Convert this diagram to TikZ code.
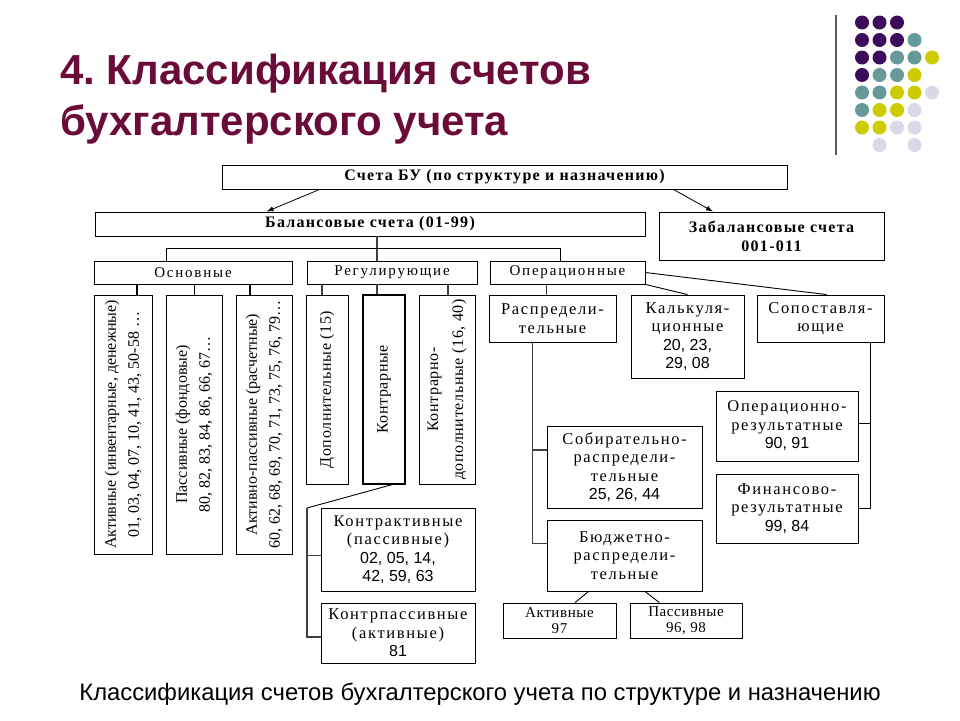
\documentclass[tikz,border=0pt]{standalone}
\usepackage{fontspec}
\setmainfont{Liberation Serif}
\newfontfamily\arialf{Liberation Sans}
\newfontfamily\spA[LetterSpace=8]{Liberation Serif}
\newfontfamily\spB[LetterSpace=12]{Liberation Serif}
\newfontfamily\spD[LetterSpace=10]{Liberation Serif}
\newfontfamily\spC[LetterSpace=4]{Liberation Serif}
\usetikzlibrary{arrows.meta,calc}
\definecolor{titlec}{HTML}{6B0B3A}
\definecolor{dP}{HTML}{3D0B5C}
\definecolor{dT}{HTML}{669999}
\definecolor{dY}{HTML}{CCCC00}
\definecolor{dL}{HTML}{D9D9EA}
\tikzset{
  box/.style={draw=black, line width=0.9pt, inner sep=0pt, align=center},
  hb/.style={box, font=\spA\bfseries\fontsize{16}{19}\selectfont},
  lv/.style={box, font=\spB\fontsize{15}{17}\selectfont},
  bt/.style={box, font=\spD\fontsize{16.5}{18.5}\selectfont},
  vt/.style={rotate=90, inner sep=0pt, align=center, font=\fontsize{16}{23}\selectfont},
  vr/.style={rotate=90, inner sep=0pt, align=center, font=\spC\fontsize{16}{25}\selectfont},
  conn/.style={draw=black!75, line width=1.4pt},
  thinl/.style={draw=black, line width=0.9pt},
  arr/.style={draw=black, line width=0.8pt, -{Latex[length=7pt,width=5pt]}}
}
\newcommand\numf{\arialf\fontsize{16}{18.5}\selectfont}
\frenchspacing
\begin{document}
\begin{tikzpicture}[x=1pt,y=-1pt]
\useasboundingbox (0,0) rectangle (960,720);
\fill[white] (0,0) rectangle (960,720);

% decoration
\draw[line width=2pt, draw=black!65] (836,15) -- (836,155);
\foreach \c/\cx/\cy in {dP/862/22.5,dP/879.5/22.5,dP/897/22.5,
  dP/862/40,dP/879.5/40,dP/897/40,dT/914.5/40,
  dP/862/57.5,dP/879.5/57.5,dT/897/57.5,dT/914.5/57.5,dY/932/57.5,
  dP/862/75,dT/879.5/75,dT/897/75,dY/914.5/75,
  dT/862/92.5,dT/879.5/92.5,dY/897/92.5,dY/914.5/92.5,dL/932/92.5,
  dT/862/110,dY/879.5/110,dY/897/110,dL/914.5/110,
  dY/862/127.5,dY/879.5/127.5,dL/897/127.5,dL/914.5/127.5,
  dL/879.5/145,dL/914.5/145}
  \fill[\c] (\cx,\cy) circle (7pt);

% title
\node[anchor=base west, inner sep=0pt, text=titlec, font=\arialf\bfseries\fontsize{42}{50}\selectfont] (t1) at (60,84) {4. Классификация счетов};
\node[anchor=base west, inner sep=0pt, text=titlec, font=\arialf\bfseries\fontsize{42}{50}\selectfont] (t2) at (60,135) {бухгалтерского учета};
\node[anchor=base, inner sep=0pt, font=\arialf\fontsize{23.8}{27}\selectfont] (foot) at (480,700) {Классификация счетов бухгалтерского учета по структуре и назначению};

% boxes
\node[hb, minimum width=565pt, minimum height=24pt] (top) at (504.5,177) {Счета БУ (по структуре и назначению)};
\node[hb, minimum width=550pt, minimum height=24pt] (bal) at (370,224) {Балансовые счета (01-99)};
\node[hb, minimum width=225pt, minimum height=48pt] (zab) at (771.5,236) {Забалансовые счета\\001-011};

\node[lv, minimum width=198pt, minimum height=23pt] (osn) at (193,272.5) {Основные};
\node[lv, minimum width=170pt, minimum height=23pt] (reg) at (392,272.5) {Регулирующие};
\node[lv, minimum width=155pt, minimum height=23pt] (oper) at (567.5,272.5) {Операционные};

\node[box, minimum width=58pt, minimum height=259pt] (a1) at (123,424.5) {};
\node[box, minimum width=56pt, minimum height=259pt] (a2) at (194,424.5) {};
\node[box, minimum width=56pt, minimum height=259pt] (a3) at (264,424.5) {};
\node[vt] (a1t) at (a1.center) {Активные (инвентарные, денежные)\\01, 03, 04, 07, 10, 41, 43, 50-58 \dots};
\node[vt] (a2t) at (a2.center) {Пассивные (фондовые)\\80, 82, 83, 84, 86, 66, 67\dots};
\node[vt] (a3t) at (a3.center) {Активно-пассивные (расчетные)\\60, 62, 68, 69, 70, 71, 73, 75, 76, 79\dots};

\node[box, minimum width=42pt, minimum height=189pt] (dop) at (327,389.5) {};
\node[box, line width=1.3pt, minimum width=42pt, minimum height=189pt] (kon) at (384,389.5) {};
\node[box, minimum width=56pt, minimum height=189pt] (kd) at (447,389.5) {};
\node[vr] (dopt) at (dop.center) {Дополнительные (15)};
\node[vr] (kont) at (kon.center) {Контрарные};
\node[vr] (kdt) at (kd.center) {Контрарно-\\дополнительные (16, 40)};

\node[bt, minimum width=154pt, minimum height=83pt] (ka) at (398,549.5) {Контрактивные\\(пассивные)\\{\numf 02, 05, 14,}\\{\numf 42, 59, 63}};
\node[bt, minimum width=154pt, minimum height=60pt] (kp) at (398,633) {Контрпассивные\\(активные)\\{\numf 81}};

\node[bt, minimum width=127pt, minimum height=47pt] (ras) at (552.5,318.5) {Распредели-\\тельные};
\node[bt, minimum width=113pt, minimum height=83pt] (kal) at (687.5,336.5) {Калькуля-\\ционные\\{\numf 20, 23,}\\{\numf 29, 08}};
\node[bt, minimum width=127pt, minimum height=47pt] (sop) at (820.5,318.5) {Сопоставля-\\ющие};
\node[bt, minimum width=155pt, minimum height=82pt] (sob) at (624.5,467) {Собирательно-\\распредели-\\тельные\\{\numf 25, 26, 44}};
\node[bt, minimum width=155pt, minimum height=71pt] (bud) at (624.5,555.5) {Бюджетно-\\распредели-\\тельные};
\node[bt, minimum width=142pt, minimum height=70pt] (opr) at (787,426) {Операционно-\\результатные\\{\numf 90, 91}};
\node[bt, minimum width=142pt, minimum height=69pt] (fin) at (787,508.5) {Финансово-\\результатные\\{\numf 99, 84}};
\node[bt, minimum width=113pt, minimum height=35pt, font=\spC\fontsize{15}{16}\selectfont] (akt) at (559.5,620.5) {Активные\\97};
\node[bt, minimum width=112pt, minimum height=35pt, font=\spC\fontsize{15}{16}\selectfont] (pas) at (686,620.5) {Пассивные\\96, 98};

% connectors
\draw[arr] ([xshift=98pt]top.south west) -- ([xshift=172pt]bal.north west);
\draw[arr] ([xshift=-114pt]top.south east) -- ([xshift=-58.5pt]zab.north);
\draw[conn] ([xshift=7pt]bal.south) -- ([xshift=-15pt]reg.north);
\draw[thinl] ([xshift=-27pt]osn.north) -- ++(0,-12) -| ([xshift=-7.5pt]oper.north);

\draw[conn, draw=black] ([xshift=14pt]a1.north) -- ([xshift=14pt]a1.north |- osn.south);
\draw[thinl] (a2.north) -- (a2.north |- osn.south);
\draw[conn, draw=black] ([xshift=-14pt]a3.north) -- ([xshift=-14pt]a3.north |- osn.south);

\draw[conn] ([xshift=-5pt]dop.north) -- ([xshift=-5pt]dop.north |- reg.south);
\draw[conn] ([xshift=-7pt]kon.north) -- ([xshift=-7pt]kon.north |- reg.south);
\draw[conn] ([xshift=1pt]kd.north) -- ([xshift=1pt]kd.north |- reg.south);

\coordinate (kt) at (307,508);
\draw[thinl] ([xshift=8pt]kon.south) -- (kt);
\draw[conn] (kt) |- ([yshift=-4pt]kp.west);
\draw[conn] ([yshift=-6pt]ka.west) -- ++(-14,0);

\draw[conn] ([xshift=-6pt]ras.north) -- ([xshift=-6pt]ras.north |- oper.south);
\draw[thinl] (oper.south east) -- (kal.north);
\draw[thinl] (oper.east) -- ([xshift=6pt]sop.north);

\draw[conn] ([xshift=-20pt]ras.south) |- ([yshift=12pt]bud.west);
\draw[conn] ([yshift=17pt]sob.west) -- ++(-14,0);
\draw[thinl] ([xshift=49.5pt]sop.south) |- (fin.east);
\draw[thinl] ([yshift=3pt]opr.east) -- ++(12,0);
\draw[thinl] ([xshift=-36pt]bud.south) -- ([xshift=15.5pt]akt.north);
\draw[thinl] ([xshift=20.5pt]bud.south) -- ([xshift=-26.7pt]pas.north);
\end{tikzpicture}
\end{document}
